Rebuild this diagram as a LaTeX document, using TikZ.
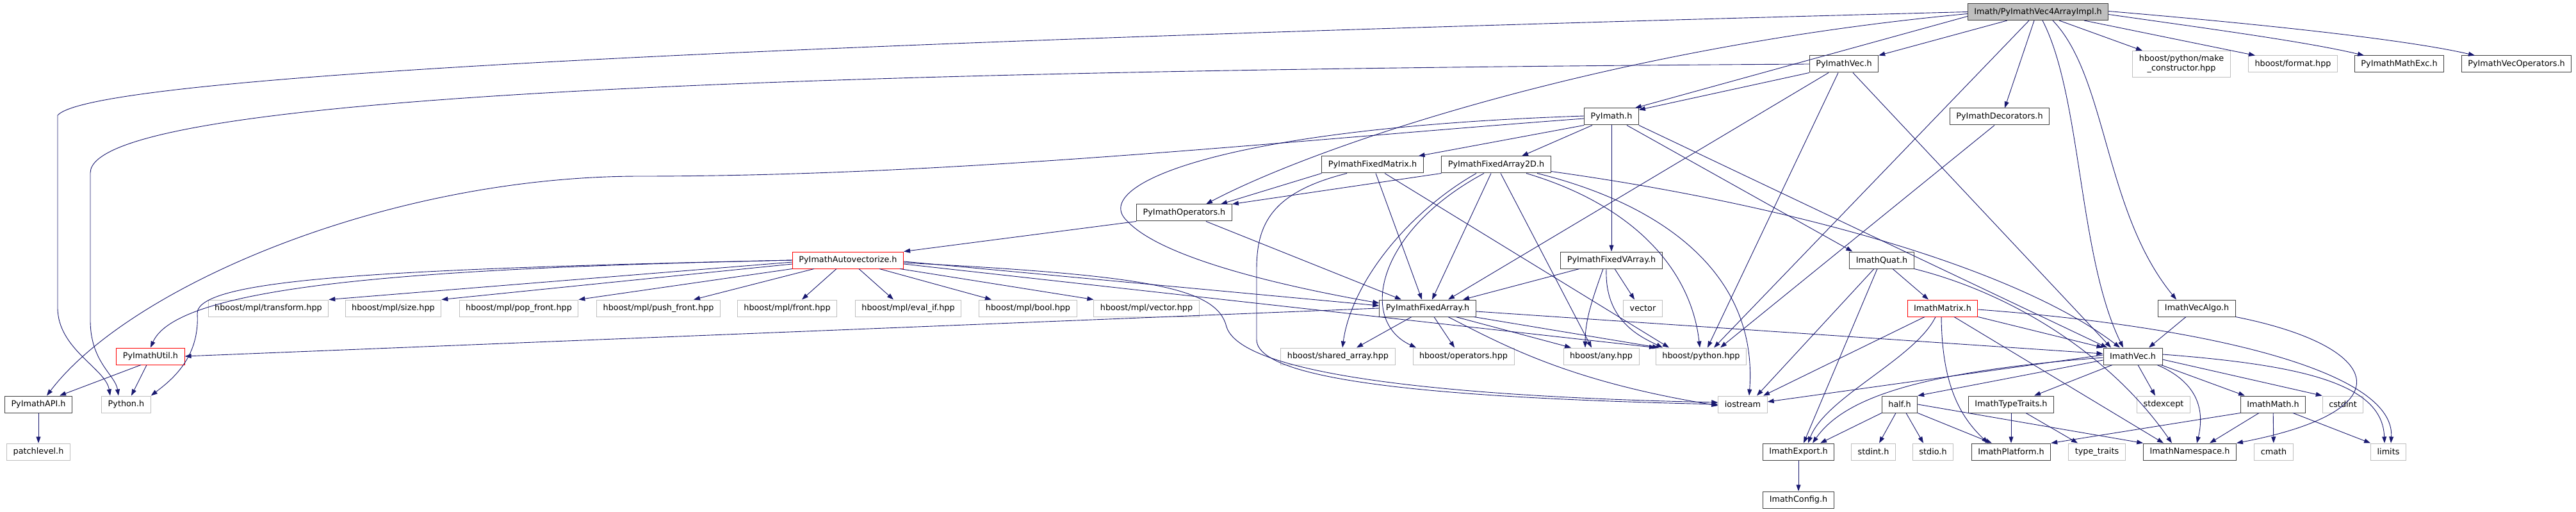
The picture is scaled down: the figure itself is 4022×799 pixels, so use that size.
\documentclass[tikz,border=0pt]{standalone}
\usepackage{fontspec}
\setmainfont{DejaVu Sans}
\usetikzlibrary{arrows.meta}

\definecolor{edgeblue}{HTML}{191970}
\definecolor{sysgray}{HTML}{BFBFBF}

\tikzset{
  hfile/.style={draw=black!75, fill=white, line width=1pt, minimum height=26pt,
    inner xsep=10pt, inner ysep=0pt, font=\fontsize{12.8}{15}\selectfont},
  sysfile/.style={hfile, draw=sysgray},
  redfile/.style={hfile, draw=red},
  rootfile/.style={hfile, fill=sysgray},
  dep/.style={draw=edgeblue, line width=0.9pt, -{Triangle[length=10pt,width=7pt]}},
}

\begin{document}
\begin{tikzpicture}[x=1pt,y=-1pt]
	\useasboundingbox[fill=white] (0,0) rectangle (4022,799);

	% files
	\node[rootfile] (root) at (3182,18.5) {Imath/PyImathVec4ArrayImpl.h};
	\node[hfile] (pyvec) at (2879,100) {PyImathVec.h};
	\node[sysfile, align=center, minimum height=41pt] (mkctor) at (3406,100) {hboost/python/make\\\_constructor.hpp};
	\node[sysfile] (fmt) at (3580,100) {hboost/format.hpp};
	\node[hfile] (mathexc) at (3746,100) {PyImathMathExc.h};
	\node[hfile] (vecops) at (3929,100) {PyImathVecOperators.h};
	\node[hfile] (pyimath) at (2516,182) {PyImath.h};
	\node[hfile] (decor) at (3122,182) {PyImathDecorators.h};
	\node[hfile] (fixmat) at (2143,257) {PyImathFixedMatrix.h};
	\node[hfile] (fix2d) at (2336,257) {PyImathFixedArray2D.h};
	\node[hfile] (pyops) at (1849,332) {PyImathOperators.h};
	\node[redfile] (autovec) at (1324,406) {PyImathAutovectorize.h};
	\node[hfile] (fixv) at (2516,406) {PyImathFixedVArray.h};
	\node[hfile] (quat) at (2938,406) {ImathQuat.h};
	\foreach \name/\x/\file in {transform/419/transform, size/614/size, popfront/810/pop\_front,
			pushfront/1028/push\_front, front/1229/front, evalif/1418/eval\_if, bool/1605/bool, vector/1790/vector}
		\node[sysfile] (\name) at (\x,481) {hboost/mpl/\file.hpp};
	\node[hfile] (fixarr) at (2229,481) {PyImathFixedArray.h};
	\node[sysfile] (vecstd) at (2565,481) {vector};
	\node[redfile] (matrix) at (3033,481) {ImathMatrix.h};
	\node[hfile] (vecalgo) at (3430,481) {ImathVecAlgo.h};
	\node[redfile] (util) at (235,556) {PyImathUtil.h};
	\node[sysfile] (shared) at (2089,556) {hboost/shared\_array.hpp};
	\node[sysfile] (operators) at (2285,556) {hboost/operators.hpp};
	\node[sysfile] (any) at (2500,556) {hboost/any.hpp};
	\node[sysfile] (python) at (2656,556) {hboost/python.hpp};
	\node[hfile] (imvec) at (3330,556) {ImathVec.h};
	\node[hfile] (api) at (60,631) {PyImathAPI.h};
	\node[sysfile] (pythonh) at (197,631) {Python.h};
	\node[sysfile] (iostream) at (2721,631) {iostream};
	\node[hfile] (half) at (2966,631) {half.h};
	\node[hfile] (traits) at (3140,631) {ImathTypeTraits.h};
	\node[sysfile] (stdexcept) at (3378,631) {stdexcept};
	\node[hfile] (immath) at (3549,631) {ImathMath.h};
	\node[sysfile] (cstdint) at (3658,631) {cstdint};
	\node[sysfile] (patch) at (60,705) {patchlevel.h};
	\node[hfile] (export) at (2808,705) {ImathExport.h};
	\node[sysfile] (stdint) at (2925,705) {stdint.h};
	\node[sysfile] (stdio) at (3018,705) {stdio.h};
	\node[hfile] (platform) at (3140,705) {ImathPlatform.h};
	\node[sysfile] (typetr) at (3274,705) {type\_traits};
	\node[hfile] (namespace) at (3419,705) {ImathNamespace.h};
	\node[sysfile] (cmath) at (3550,705) {cmath};
	\node[sysfile] (limits) at (3729,705) {limits};
	\node[hfile] (config) at (2808,780) {ImathConfig.h};

	% includes of the root file
	\draw[dep] (root.west) .. controls (1500,60) and (150,110) .. (90,180) -- (90,480) .. controls (90,545) and (165,575) .. ([xshift=-25pt]pythonh.north);
	\draw[dep] ([yshift=-3pt]root.west) .. controls (2500,75) and (2050,230) .. ([xshift=34pt]pyops.north);
	\draw[dep] ([yshift=-7pt]root.west) -- ([xshift=-6pt]pyimath.north east);
	\draw[dep] ([xshift=-48pt]root.south) -- (pyvec.north east);
	\draw[dep] ([xshift=-14pt]root.south) -- ([xshift=20pt]python.north);
	\draw[dep] ([xshift=-6pt]root.south) -- ([xshift=8pt]decor.north);
	\draw[dep] ([xshift=7pt]root.south) .. controls (3250,150) and (3245,400) .. ([xshift=-15pt]imvec.north);
	\draw[dep] ([xshift=23pt]root.south) .. controls (3290,120) and (3285,330) .. ([xshift=-32pt]vecalgo.north);
	\draw[dep] ([xshift=33pt]root.south) -- ([xshift=-61pt]mkctor.north);
	\draw[dep] ([xshift=72pt]root.south) -- ([xshift=-59pt]fmt.north);
	\draw[dep] ([yshift=-4pt]root.east) .. controls (3450,45) and (3600,65) .. ([xshift=-55pt]mathexc.north);
	\draw[dep] ([yshift=1pt]root.east) .. controls (3500,35) and (3750,60) .. ([xshift=-65pt]vecops.north);

	% PyImathVec.h
	\draw[dep] (pyvec.west) .. controls (1200,110) and (141,150) .. (141,270) -- (141,500) .. controls (141,565) and (180,585) .. ([xshift=-12pt]pythonh.north);
	\draw[dep] (pyvec.south west) -- ([yshift=-3pt]pyimath.north east);
	\draw[dep] ([xshift=-24pt]pyvec.south) -- ([xshift=32pt]fixarr.north);
	\draw[dep] ([xshift=-9pt]pyvec.south) -- ([xshift=10pt]python.north);
	\draw[dep] ([xshift=14pt]pyvec.south) -- ([xshift=-34pt]imvec.north);

	% PyImath.h
	\draw[dep] ([yshift=-3pt]pyimath.west) .. controls (2000,220) and (1500,275) .. (1000,275) .. controls (600,275) and (200,450) .. ([xshift=13pt]api.north);
	\draw[dep] ([yshift=1pt]pyimath.west) .. controls (1900,200) and (1700,290) .. (1760,345) .. controls (1820,410) and (2050,455) .. ([yshift=8pt]fixarr.west);
	\draw[dep] (pyimath.south west) -- ([xshift=-8pt]fixmat.north east);
	\draw[dep] ([xshift=-30pt]pyimath.south) -- ([xshift=40pt]fix2d.north);
	\draw[dep] (pyimath) -- (fixv);
	\draw[dep] ([xshift=24pt]pyimath.south) -- ([xshift=5pt]quat.north west);
	\draw[dep] (pyimath.south east) -- ([xshift=-40pt]imvec.north);

	\draw[dep] ([xshift=-8pt]decor.south) -- ([xshift=30pt]python.north);

	% PyImathFixedMatrix.h
	\draw[dep] (fixmat.south west) -- ([xshift=57pt]pyops.north);
	\draw[dep] ([xshift=-40pt]fixmat.south) .. controls (1985,300) and (1962,350) .. (1962,420) -- (1962,530) .. controls (1962,600) and (2300,622) .. (iostream.west);
	\draw[dep] ([xshift=5pt]fixmat.south) -- ([xshift=-9pt]fixarr.north);
	\draw[dep] ([xshift=19pt]fixmat.south) -- ([xshift=-50pt]python.north);

	% PyImathFixedArray2D.h
	\draw[dep] (fix2d.south west) -- (pyops.north east);
	\draw[dep] ([xshift=-31pt]fix2d.south) .. controls (2200,330) and (2110,440) .. ([xshift=7pt]shared.north);
	\draw[dep] ([xshift=-19pt]fix2d.south) .. controls (2150,360) and (2120,500) .. ([xshift=-74pt]operators.north);
	\draw[dep] ([xshift=-8pt]fix2d.south) -- ([xshift=7pt]fixarr.north);
	\draw[dep] ([xshift=7pt]fix2d.south) -- ([xshift=-15pt]any.north);
	\draw[dep] ([xshift=47pt]fix2d.south) .. controls (2550,320) and (2640,420) .. ([xshift=-2pt]python.north);
	\draw[dep] ([xshift=64pt]fix2d.south) .. controls (2600,320) and (2745,430) .. ([xshift=10pt]iostream.north);
	\draw[dep] ([yshift=3pt]fix2d.south east) .. controls (2800,320) and (3150,420) .. ([xshift=-20pt]imvec.north);

	% PyImathFixedVArray.h
	\draw[dep] ([xshift=-50pt]fixv.south) -- ([xshift=55pt]fixarr.north);
	\draw[dep] ([xshift=-13pt]fixv.south) .. controls (2485,470) and (2475,500) .. ([xshift=-25pt]any.north);
	\draw[dep] ([xshift=-8pt]fixv.south) .. controls (2505,500) and (2560,525) .. ([xshift=-60pt]python.north);
	\draw[dep] ([xshift=5pt]fixv.south) -- ([xshift=-13pt]vecstd.north);

	% PyImathOperators.h
	\draw[dep] (pyops.south west) -- (autovec.north east);
	\draw[dep] ([xshift=34pt]pyops.south) -- ([xshift=-41pt]fixarr.north);

	% PyImathAutovectorize.h
	\draw[dep] (autovec.west) .. controls (700,418) and (280,440) .. (util.north);
	\draw[dep] (autovec.west) .. controls (600,420) and (305,435) .. (308,490) .. controls (312,560) and (265,595) .. (pythonh.north east);
	\draw[dep] ([yshift=-3pt]autovec.west) -- (transform.north east);
	\draw[dep] ([yshift=-6pt]autovec.west) -- (size.north east);
	\draw[dep] (autovec.south west) -- (popfront.north east);
	\draw[dep] ([xshift=-53pt]autovec.south) -- ([xshift=55pt]pushfront.north);
	\draw[dep] ([xshift=-18pt]autovec.south) -- ([xshift=23pt]front.north);
	\draw[dep] ([xshift=17pt]autovec.south) -- ([xshift=-23pt]evalif.north);
	\draw[dep] ([xshift=49pt]autovec.south) -- ([xshift=-57pt]bool.north);
	\draw[dep] ([xshift=81pt]autovec.south) -- (vector.north west);
	\draw[dep] ([yshift=-2pt]autovec.east) -- ([yshift=4pt]fixarr.west);
	\draw[dep] ([yshift=-6pt]autovec.east) -- (python.north west);
	\draw[dep] ([yshift=-4pt]autovec.east) .. controls (1800,430) and (1900,450) .. (1915,510) .. controls (1940,590) and (2300,620) .. ([yshift=3pt]iostream.west);

	\draw[dep] ([xshift=-15pt]util.south) -- ([xshift=-20pt]api.north east);
	\draw[dep] ([xshift=-6pt]util.south) -- ([xshift=8pt]pythonh.north);

	% PyImathFixedArray.h
	\draw[dep] (fixarr.west) -- (util.east);
	\draw[dep] ([xshift=-25pt]fixarr.south) -- ([xshift=29pt]shared.north);
	\draw[dep] ([xshift=10pt]fixarr.south) -- ([xshift=-14pt]operators.north);
	\draw[dep] ([xshift=32pt]fixarr.south) .. controls (2350,540) and (2450,595) .. ([yshift=-2pt]iostream.west);
	\draw[dep] ([xshift=44pt]fixarr.south) -- ([xshift=-47pt]any.north);
	\draw[dep] ([xshift=72pt]fixarr.south) -- ([xshift=-66pt]python.north);
	\draw[dep] ([yshift=-5pt]fixarr.east) -- ([yshift=4pt]imvec.west);

	% ImathQuat.h
	\draw[dep] ([xshift=-12pt]quat.south) -- ([xshift=22pt]iostream.north);
	\draw[dep] ([xshift=-7pt]quat.south) -- ([xshift=8pt]export.north);
	\draw[dep] ([xshift=17pt]quat.south) -- ([xshift=-22pt]matrix.north);
	\draw[dep] (quat.south east) .. controls (3150,460) and (3300,560) .. ([xshift=-28pt]namespace.north);

	% ImathMatrix.h
	\draw[dep] ([xshift=-28pt]matrix.south) -- ([xshift=32pt]iostream.north);
	\draw[dep] ([xshift=-11pt]matrix.south) .. controls (2990,560) and (2850,620) .. ([xshift=15pt]export.north);
	\draw[dep] ([xshift=-2pt]matrix.south) .. controls (3032,600) and (3060,650) .. ([xshift=-36pt]platform.north);
	\draw[dep] ([xshift=18pt]matrix.south) -- ([xshift=-41pt]namespace.north);
	\draw[dep] (matrix.south east) -- (imvec.north west);
	\draw[dep] ([yshift=-2pt]matrix.east) .. controls (3450,510) and (3740,580) .. ([xshift=4pt]limits.north);

	% ImathVecAlgo.h
	\draw[dep] ([xshift=-17pt]vecalgo.south) -- ([xshift=25pt]imvec.north);
	\draw[dep] (vecalgo.south east) .. controls (3720,540) and (3760,640) .. (namespace.north east);

	% ImathVec.h
	\draw[dep] ([yshift=2pt]imvec.west) -- ([yshift=4pt]iostream.east);
	\draw[dep] ([yshift=-2pt]imvec.west) .. controls (3000,580) and (2880,620) .. ([xshift=22pt]export.north);
	\draw[dep] ([yshift=-6pt]imvec.west) -- (half.north east);
	\draw[dep] ([xshift=-32pt]imvec.south) -- ([xshift=36pt]traits.north);
	\draw[dep] ([xshift=8pt]imvec.south) -- ([xshift=-13pt]stdexcept.north);
	\draw[dep] ([xshift=38pt]imvec.south) .. controls (3440,600) and (3440,650) .. ([xshift=11pt]namespace.north);
	\draw[dep] ([xshift=44pt]imvec.south) -- ([xshift=-44pt]immath.north);
	\draw[dep] ([yshift=-5pt]imvec.east) -- (cstdint.north west);
	\draw[dep] ([yshift=3pt]imvec.east) .. controls (3600,570) and (3720,600) .. ([xshift=-6pt]limits.north);

	% half.h
	\draw[dep] (half.south west) -- ([xshift=34pt]export.north);
	\draw[dep] ([xshift=-6pt]half.south) -- ([xshift=9pt]stdint.north);
	\draw[dep] ([xshift=10pt]half.south) -- ([xshift=-15pt]stdio.north);
	\draw[dep] (half.south east) -- ([xshift=-30pt]platform.north);
	\draw[dep] (half.east) -- (namespace.north west);

	\draw[dep] (traits) -- (platform);
	\draw[dep] ([xshift=23pt]traits.south) -- ([xshift=-30pt]typetr.north);
	\draw[dep] (immath.south west) -- (platform.north east);
	\draw[dep] ([xshift=-22pt]immath.south) -- ([xshift=31pt]namespace.north);
	\draw[dep] (immath) -- (cmath);
	\draw[dep] ([xshift=31pt]immath.south) -- (limits.north west);
	\draw[dep] (export) -- (config);
	\draw[dep] (api) -- (patch);
\end{tikzpicture}
\end{document}
